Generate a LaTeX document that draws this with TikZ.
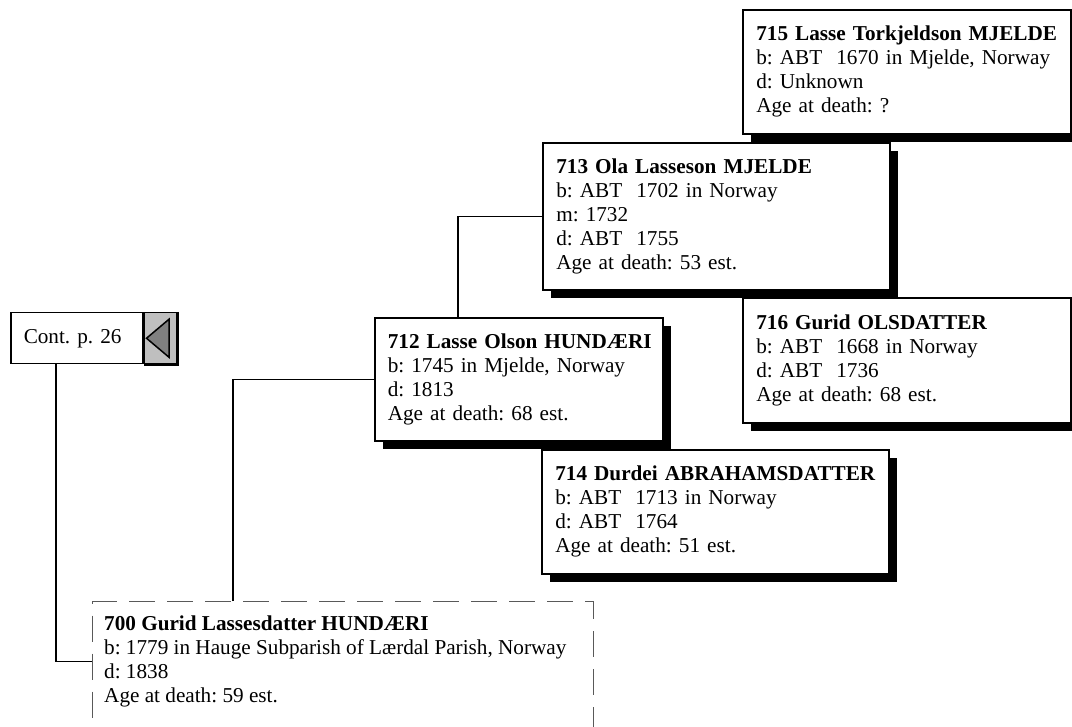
\documentclass[tikz,border=0pt]{standalone}
\usepackage{fontspec}
\setmainfont{Liberation Serif}
\usetikzlibrary{positioning, calc, shadows}
\frenchspacing

\newcommand{\pname}[1]{\mbox{\textbf{#1}}}

\tikzset{
  every node/.style={font=\fontsize{21.2}{24}\selectfont},
  person/.style={draw, line width=1.6pt, fill=white, anchor=north west, align=left,
    inner xsep=13.5pt, inner ysep=0pt,
    drop shadow={shadow xshift=8pt, shadow yshift=-8pt, opacity=1, fill=black}},
  lost/.style={draw=black!65, line width=1.4pt, dash pattern=on 26pt off 12pt, anchor=north west},
  link/.style={line width=1.5pt},
}

\begin{document}
\begin{tikzpicture}[x=1pt, y=-1pt]
\useasboundingbox (0,0) rectangle (1072,727);

% ancestors
\node[person, text width=301pt, minimum height=124pt] (p715) at (742,9)
  {\pname{715 Lasse Torkjeldson MJELDE}\\ b: ABT~ 1670 in Mjelde, Norway\\ d: Unknown\\ Age at death: ?};
\node[person, text width=320pt, minimum height=147pt] (p713) at (542,142)
  {\pname{713 Ola Lasseson MJELDE}\\ b: ABT~ 1702 in Norway\\ m: 1732\\ d: ABT~ 1755\\ Age at death: 53 est.};
\node[person, text width=301pt, minimum height=125pt] (p716) at (742,297)
  {\pname{716 Gurid OLSDATTER}\\ b: ABT~ 1668 in Norway\\ d: ABT~ 1736\\ Age at death: 68 est.};
\node[person, text width=262pt, minimum height=123pt, inner xsep=13pt] (p712) at (374,317)
  {\pname{712 Lasse Olson HUNDÆRI}\\ b: 1745 in Mjelde, Norway\\ d: 1813\\ Age at death: 68 est.};
\node[person, text width=320pt, minimum height=124pt] (p714) at (541,449)
  {\pname{714 Durdei ABRAHAMSDATTER}\\ b: ABT~ 1713 in Norway\\ d: ABT~ 1764\\ Age at death: 51 est.};

% root person, box runs off the page
\node[lost, minimum width=501pt, minimum height=200pt] (box700) at (92,601) {};
\node[anchor=north west, align=left, inner sep=0pt] (p700) at (104,615.5)
  {\pname{700 Gurid Lassesdatter HUNDÆRI}\\ b: 1779 in Hauge Subparish of Lærdal Parish, Norway\\ d: 1838\\ Age at death: 59 est.};

% continuation tag
\node[draw, line width=1.5pt, anchor=north west, minimum height=51pt, align=left,
  text width=106pt, inner xsep=13pt] (cont) at (10,312) {Cont. p. 26};
\node[draw, line width=1.5pt, fill=black!25, anchor=north west, minimum width=32pt,
  minimum height=51pt, inner sep=0pt] (back) at (cont.north east) {};
\draw[line width=1.5pt, fill=black!50] ([xshift=3pt]back.west) -- ([xshift=-8pt, yshift=19pt]back.east)
  -- ([xshift=-8pt, yshift=-19pt]back.east) -- cycle;
\draw[line width=3pt] (back.north east) -- (back.south east) -- (back.south west);

% lines
\draw[link] ([xshift=46pt]cont.south west) |- (box700.west |- p700.west);
\draw[link] ([xshift=141pt]box700.north west) |- (p712.west);
\draw[link] ([xshift=84pt]p712.north west) |- (p713.west);
\end{tikzpicture}
\end{document}
